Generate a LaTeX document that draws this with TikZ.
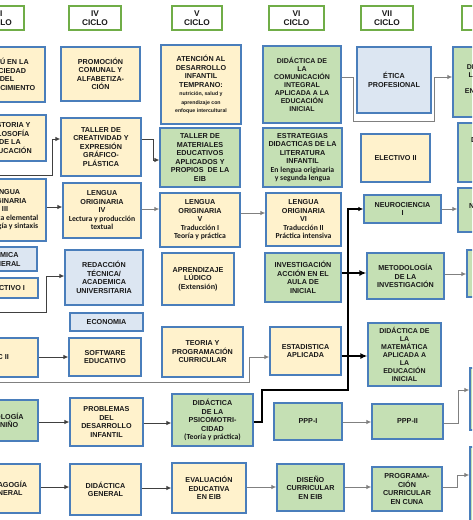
\documentclass[tikz,border=0pt]{standalone}
\usepackage{fontspec}
\setmainfont{Liberation Sans}
\newfontfamily\calib{Carlito}
\usetikzlibrary{arrows.meta}
\definecolor{curyel}{HTML}{FFF2CC}
\definecolor{curgrn}{HTML}{C5E0B4}
\definecolor{curblu}{HTML}{DCE6F2}
\definecolor{bordeazul}{HTML}{4A7EBB}
\definecolor{ciclogrn}{HTML}{70AD47}
\newcommand{\nota}[1]{{\calib\fontsize{7.7}{8.5}\selectfont #1}}
\newcommand{\chica}[1]{{\fontsize{5.2}{6.4}\selectfont #1}}

\begin{document}
\begin{tikzpicture}[x=1pt, y=-1pt, >={Latex[length=5pt,width=4.5pt]},
    every node/.style={align=center, inner sep=1pt, text=black!90,
        font=\fontsize{7.2}{8.5}\selectfont\bfseries},
    sz/.style 2 args={minimum width=#1, minimum height=#2},
    caja/.style={draw=bordeazul, line width=1.3pt},
    yel/.style={caja, fill=curyel},
    grn/.style={caja, fill=curgrn},
    blu/.style={caja, fill=curblu},
    apretado/.style={font=\fontsize{7}{8}\selectfont\bfseries},
    ciclo/.style={draw=ciclogrn, line width=1.2pt, fill=white,
        font=\fontsize{8.3}{8.5}\selectfont\bfseries},
    oscura/.style={draw=black!75, line width=0.9pt},
    gris/.style={draw=black!50, line width=1pt},
    negra/.style={draw=black, line width=1.5pt},
    gruesa/.style={draw=black, line width=2.2pt, -{Latex[length=7pt,width=6pt]}}]

    \useasboundingbox (0,0) rectangle (472,520);
    \clip (0,0) rectangle (472,520);
    \fill[white] (0,0) rectangle (472,520);

    \node[ciclo, sz={50}{24}] (c3) at (-1,18) {III\\CICLO};
    \node[ciclo, sz={52}{24}] (c4) at (95,18) {IV\\CICLO};
    \node[ciclo, sz={50}{24}] (c5) at (197,18) {V\\CICLO};
    \node[ciclo, sz={55}{24}] (c6) at (296.5,18) {VI\\CICLO};
    \node[ciclo, sz={52}{24}] (c7) at (387,18) {VII\\CICLO};
    \node[ciclo, sz={52}{24}] (c8) at (488,18) {VIII\\CICLO};

    \node[yel, sz={76}{55}] (peru) at (7,74.5) {PERÚ EN LA\\SOCIEDAD\\DEL\\CONOCIMIENTO};
    \node[yel, sz={79}{54}] (promo) at (100.5,74) {PROMOCIÓN\\COMUNAL Y\\ALFABETIZA-\\CIÓN};
    \node[yel, sz={80}{79}] (atenc) at (201,84.5) {ATENCIÓN AL\\DESARROLLO\\INFANTIL\\TEMPRANO:\\
        \chica{nutrición, salud y}\\\chica{aprendizaje con}\\\chica{enfoque intercultural}};
    \node[grn, apretado, sz={78}{77}] (dcom) at (302,84.5) {DIDÁCTICA DE\\LA\\COMUNICACIÓN\\INTEGRAL\\APLICADA A LA\\EDUCACIÓN\\INICIAL};
    \node[blu, sz={74}{66}] (etica) at (394,80) {ÉTICA\\PROFESIONAL};
    \node[grn, apretado, sz={78}{70}] (r1) at (492,82) {DIDÁCTICA DE\\LA CIENCIA Y\\AMBIENTE\\EN EDUCACIÓN\\INICIAL};

    \node[yel, sz={72}{46}] (hist) at (10,138) {HISTORIA Y\\FILOSOFÍA\\DE LA\\EDUCACIÓN};
    \node[yel, sz={80}{58}] (creat) at (101,147) {TALLER DE\\CREATIVIDAD Y\\EXPRESIÓN\\GRÁFICO-\\PLÁSTICA};
    \node[grn, sz={80}{59}] (mater) at (200,157.5) {TALLER DE\\MATERIALES\\EDUCATIVOS\\APLICADOS Y\\PROPIOS~ DE LA\\EIB};
    \node[grn, sz={79}{59}] (estrat) at (302.5,157.5) {ESTRATEGIAS\\DIDACTICAS DE LA\\LITERATURA\\INFANTIL\\
        \nota{En lengua originaria}\\\nota{y segunda lengua}};
    \node[yel, sz={69}{48}] (elect2) at (395.5,158) {ELECTIVO II};
    \node[grn, sz={78}{59}] (r2) at (497,152.5) {DIDÁCTICA DE\\PERSONAL\\SOCIAL EN\\INICIAL};

    \node[yel, sz={82}{62}] (leng3) at (5,210) {LENGUA\\ORIGINARIA\\III\\
        \nota{Gramática elemental}\\\nota{Morfología y sintaxis}};
    \node[yel, sz={78}{55}] (leng4) at (102,210.5) {LENGUA\\ORIGINARIA\\IV\\
        \nota{Lectura y producción}\\\nota{textual}};
    \node[yel, sz={80}{54}] (leng5) at (200,220) {LENGUA\\ORIGINARIA\\V\\
        \nota{Traducción I}\\\nota{Teoría y práctica}};
    \node[yel, sz={75}{53}] (leng6) at (303.5,219.5) {LENGUA\\ORIGINARIA\\VI\\
        \nota{Traducción II}\\\nota{Práctica intensiva}};
    \node[grn, sz={77}{28}] (neuro) at (402.5,209) {NEUROCIENCIA\\I};
    \node[grn, sz={78}{44}] (r3) at (497,210) {NEUROCIENCIA\\II};

    \node[blu, sz={68}{24}] (quim) at (3,259) {QUÍMICA\\GENERAL};
    \node[yel, sz={66}{20}] (elect1) at (5,288) {ELECTIVO I};
    \node[blu, sz={78}{55}] (redac) at (104,277.5) {REDACCIÓN\\TÉCNICA/\\ACADEMICA\\UNIVERSITARIA};
    \node[blu, sz={73}{18}] (econ) at (106.5,322) {ECONOMIA};
    \node[yel, sz={72}{52}] (ludico) at (198,279) {APRENDIZAJE\\LÚDICO\\(Extensión)};
    \node[grn, sz={76}{49}] (invest) at (303,277.5) {INVESTIGACIÓN\\ACCIÓN EN EL\\AULA DE\\INICIAL};
    \node[grn, sz={77}{46}] (metod) at (405.5,276) {METODOLOGÍA\\DE LA\\INVESTIGACIÓN};
    \node[grn, sz={78}{47}] (r4) at (506,273.5) {};

    \node[yel, sz={76}{39}] (tic) at (0,357.5) {TIC II};
    \node[yel, sz={72}{38}] (soft) at (105,357) {SOFTWARE\\EDUCATIVO};
    \node[yel, sz={81}{50}] (teoria) at (202.5,352) {TEORIA Y\\PROGRAMACIÓN\\CURRICULAR};
    \node[yel, sz={71}{48}] (estad) at (305.5,351) {ESTADISTICA\\APLICADA};
    \node[grn, apretado, sz={73}{63}] (dmat) at (404.5,354.5) {DIDÁCTICA DE\\LA\\MATEMÁTICA\\APLICADA A\\LA\\EDUCACIÓN\\INICIAL};
    \node[grn, sz={78}{62}] (r5) at (509,399) {};

    \node[grn, sz={74}{41}] (psico) at (1,420.5) {PSICOLOGÍA\\DEL NIÑO};
    \node[yel, sz={73}{48}] (probl) at (106.5,422) {PROBLEMAS\\DEL\\DESARROLLO\\INFANTIL};
    \node[grn, sz={81}{52}] (psimot) at (212.5,420) {DIDÁCTICA\\DE LA\\PSICOMOTRI-\\CIDAD\\\nota{(Teoría y práctica)}};
    \node[grn, sz={68}{37}] (ppp1) at (308,421.5) {PPP-I};
    \node[grn, sz={71}{35}] (ppp2) at (407.5,421.5) {PPP-II};

    \node[yel, sz={70}{49}] (pedag) at (5,488.5) {PEDAGOGÍA\\GENERAL};
    \node[yel, sz={71}{51}] (didgen) at (105.5,489.5) {DIDÁCTICA\\GENERAL};
    \node[yel, sz={74}{50}] (evalu) at (209,488) {EVALUACIÓN\\EDUCATIVA\\EN EIB};
    \node[grn, sz={67}{47}] (diseno) at (310.5,487.5) {DISEÑO\\CURRICULAR\\EN EIB};
    \node[grn, sz={70}{44}] (progc) at (407,489) {PROGRAMA-\\CIÓN\\CURRICULAR\\EN CUNA};
    \node[grn, sz={78}{83}] (r6) at (509,488.5) {};

    \coordinate (e1) at (0,175);
    \coordinate (e2) at (0,312);
    \coordinate (e3) at (0,382);

    \draw[gris,->] (dcom.east |- 0,77) -- (353,77) |- (434,121) |- (r1.west |- 0,77);
    \draw[oscura,->] (e1) -- (52,175) |- (creat.west |- 0,139);
    \draw[oscura,->] (creat.east |- 0,139) -- (153,139) |- (mater.west |- 0,160);
    \draw[oscura,->] (leng3.east |- 0,207) -- (leng4.west |- 0,207);
    \draw[gris,->] (leng4.east |- 0,209) -- (leng5.west |- 0,209);
    \draw[gris,->] (leng5.east |- 0,213) -- (leng6.west |- 0,213);
    \draw[gris,->] (neuro.east) -- (r3.west |- neuro.east);
    \draw[oscura,->] (e2) -- (46,312) |- (redac.west |- 0,276);
    \draw[oscura,->] (tic.east |- 0,357) -- (soft.west |- 0,357);
    \draw[gris,->] (e3) -- (249,382) |- (estad.west |- 0,357);
    \draw[negra,->] (psimot.east |- 0,422) -- (262,422) |- (348,390) -- (348,209) -- (neuro.west |- 0,209);
    \draw[gruesa] (invest.east |- 0,273) -- (metod.west |- 0,273);
    \draw[gruesa] (estad.east |- 0,356) -- (dmat.west |- 0,356);
    \draw[gris,->] (metod.east |- 0,274) -- (r4.west |- 0,274);
    \draw[oscura,->] (psico.east |- 0,422) -- (probl.west |- 0,422);
    \draw[oscura,->] (probl.east |- 0,423) -- (psimot.west |- 0,423);
    \draw[gris,->] (ppp1.east |- 0,422) -- (ppp2.west |- 0,422);
    \draw[gris,->] (ppp2.east |- 0,423) -- (458,423) |- (r5.west |- 0,390);
    \draw[oscura,->] (pedag.east |- 0,487) -- (didgen.west |- 0,487);
    \draw[oscura,->] (didgen.east |- 0,488) -- (evalu.west |- 0,488);
    \draw[gris,->] (evalu.east |- 0,487) -- (diseno.west |- 0,487);
    \draw[gris,->] (diseno.east |- 0,487) -- (progc.west |- 0,487);
    \draw[gris,->] (progc.east |- 0,487) -- (457,487) |- (r6.west |- 0,475);
\end{tikzpicture}
\end{document}
